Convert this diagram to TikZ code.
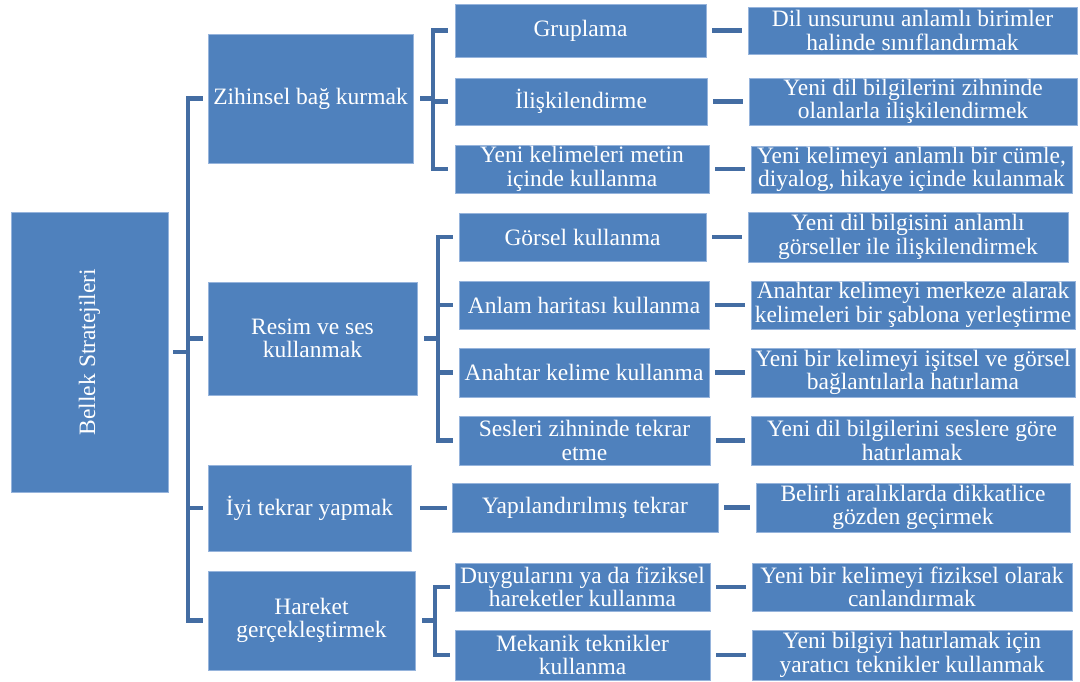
\documentclass[tikz,border=0pt]{standalone}
\usepackage{fontspec}
\setmainfont{Liberation Serif}
\begin{document}
\definecolor{boxfill}{RGB}{79,129,189}
\definecolor{boxline}{RGB}{150,180,220}
\definecolor{linkcol}{RGB}{68,109,163}
\tikzset{
  box/.style={fill=boxfill, draw=boxline, line width=0.7pt, inner sep=0pt,
    text=white, align=center,
    font=\fontsize{23.5}{23.5}\selectfont},
  conn/.style={draw=linkcol, line width=4.5pt, line cap=butt, line join=miter}
}
% box from corner (x1,y1) to corner (x2,y2), y growing downwards
\newcommand\bx[6]{\node[box, minimum width={#4-#2}, minimum height={#5-#3}]
  (#1) at ({(#2+#4)/2},{(#3+#5)/2}) {#6};}
\begin{tikzpicture}[x=1pt,y=-1pt]
\useasboundingbox (0,0) rectangle (1080,682);

% root
\bx{root}{11}{212}{168}{492}{}
\node[text=white, rotate=90, font=\fontsize{23.5}{23.5}\selectfont] (roottxt) at (root.center) {Bellek Stratejileri};

% first level
\bx{z}{208}{34}{413}{163}{Zihinsel bağ kurmak}
\bx{r}{208}{282}{417}{395}{Resim ve ses\\kullanmak}
\bx{t}{208}{465}{411}{551}{İyi tekrar yapmak}
\bx{h}{208}{571}{415}{670}{Hareket\\gerçekleştirmek}

% second level
\bx{a1}{455}{4}{706}{57}{Gruplama}
\bx{a2}{455}{78}{707}{125}{İlişkilendirme}
\bx{a3}{455}{145}{709}{193}{Yeni kelimeleri metin\\içinde kullanma}
\bx{c1}{459}{213}{706}{261}{Görsel kullanma}
\bx{c2}{459}{281}{709}{329}{Anlam haritası kullanma}
\bx{c3}{459}{348}{709}{397}{Anahtar kelime kullanma}
\bx{c4}{459}{416}{710}{465}{Sesleri zihninde tekrar\\etme}
\bx{e1}{452}{483}{718}{532}{Yapılandırılmış tekrar}
\bx{g1}{455}{563}{710}{611}{Duygularını ya da fiziksel\\hareketler kullanma}
\bx{g2}{455}{630}{710}{680}{Mekanik teknikler\\kullanma}

% third level
\bx{b1}{748}{7}{1077}{54}{Dil unsurunu anlamlı birimler\\halinde sınıflandırmak}
\bx{b2}{749}{78}{1077}{125}{Yeni dil bilgilerini zihninde\\olanlarla ilişkilendirmek}
\bx{b3}{751}{146}{1072}{193}{Yeni kelimeyi anlamlı bir cümle,\\diyalog, hikaye içinde kulanmak}
\bx{d1}{748}{212}{1068}{262}{Yeni dil bilgisini anlamlı\\görseller ile ilişkilendirmek}
\bx{d2}{751}{281}{1075}{329}{Anahtar kelimeyi merkeze alarak\\kelimeleri bir şablona yerleştirme}
\bx{d3}{751}{348}{1075}{397}{Yeni bir kelimeyi işitsel ve görsel\\bağlantılarla hatırlama}
\bx{d4}{751}{416}{1073}{465}{Yeni dil bilgilerini seslere göre\\hatırlamak}
\bx{f1}{756}{483}{1070}{532}{Belirli aralıklarda dikkatlice\\gözden geçirmek}
\bx{k1}{752}{563}{1072}{611}{Yeni bir kelimeyi fiziksel olarak\\canlandırmak}
\bx{k2}{752}{630}{1072}{680}{Yeni bilgiyi hatırlamak için\\yaratıcı teknikler kullanmak}

% bracket spines
\coordinate (s0) at (188,0);
\coordinate (s1) at (433,0);
\coordinate (s2) at (438,0);
\coordinate (s4) at (435,0);

% root bracket
\draw[conn] ([xshift=5]root.east) -- (s0 |- root.east);
\draw[conn] ([xshift=-5]z.west) -- (s0 |- z.west) -- (s0 |- h.west) -- ([xshift=-5]h.west);
\draw[conn] (s0 |- r.west) -- ([xshift=-5]r.west);
\draw[conn] (s0 |- t.west) -- ([xshift=-5]t.west);

% bracket of the first group
\draw[conn] ([xshift=7]z.east) -- (s1 |- z.east);
\draw[conn] ([xshift=-7]a1.west) -- (s1 |- a1.west) -- (s1 |- a3.west) -- ([xshift=-7]a3.west);
\draw[conn] (s1 |- a2.west) -- ([xshift=-7]a2.west);

% bracket of the second group
\draw[conn] ([xshift=7]r.east) -- (s2 |- r.east);
\draw[conn] ([xshift=-6]c1.west) -- (s2 |- c1.west) -- (s2 |- c4.west) -- ([xshift=-6]c4.west);
\draw[conn] (s2 |- c2.west) -- ([xshift=-6]c2.west);
\draw[conn] (s2 |- c3.west) -- ([xshift=-6]c3.west);

% single link of the third group
\draw[conn] ([xshift=9]t.east) -- ([xshift=-5]t.east -| e1.west);

% bracket of the fourth group
\draw[conn] ([xshift=7]h.east) -- (s4 |- h.east);
\draw[conn] ([xshift=-5]g1.west) -- (s4 |- g1.west) -- (s4 |- g2.west) -- ([xshift=-5]g2.west);

% links to the descriptions
\foreach \p/\q in {a1/b1,a2/b2,a3/b3,c1/d1,c2/d2,c3/d3,c4/d4,e1/f1,g1/k1,g2/k2}
  \draw[conn] ([xshift=6]\p.east) -- ([xshift=-6]\p.east -| \q.west);
\end{tikzpicture}
\end{document}
